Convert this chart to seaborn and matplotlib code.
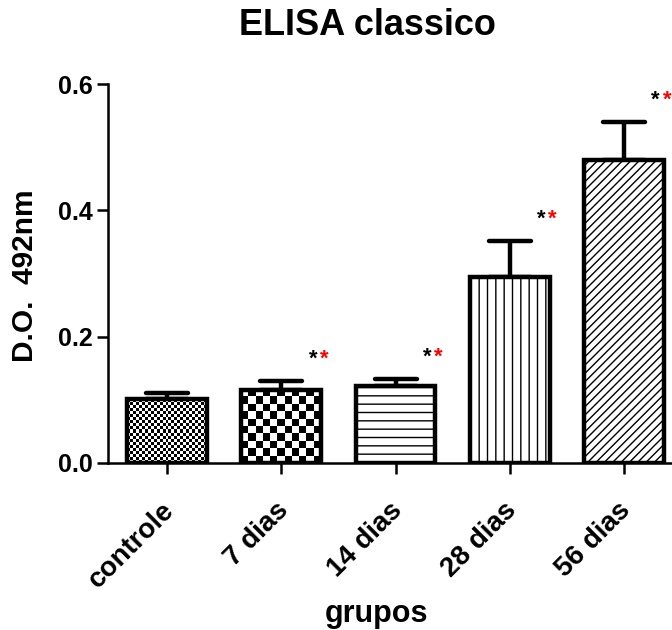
import numpy as np
import pandas as pd
import matplotlib
matplotlib.use("Agg")
import matplotlib.pyplot as plt
from matplotlib.markers import MarkerStyle
from matplotlib.transforms import ScaledTranslation
import seaborn as sns

groups = ["controle", "7 dias", "14 dias", "28 dias", "56 dias"]
means = [0.101, 0.116, 0.122, 0.295, 0.480]
sem = [0.010, 0.014, 0.011, 0.056, 0.060]
stars_black = ["", "*", "*", "*", "*"]
stars_red = ["", "*", "*", "*", "*"]
title = "ELISA classico"
ylabel = "D.O.  492nm"
xlabel = "grupos"
yticks = [0.0, 0.2, 0.4, 0.6]

sns.set_theme(style="ticks")
plt.rcParams["font.family"] = ["Liberation Sans", "DejaVu Sans"]
plt.rcParams["font.weight"] = "bold"
plt.rcParams["hatch.linewidth"] = 1.0
plt.rcParams["hatch.color"] = "black"
for k in ["text.color", "axes.labelcolor", "xtick.color", "ytick.color", "axes.edgecolor"]:
    plt.rcParams[k] = "black"

fig = plt.figure(figsize=(6.72, 6.30), dpi=100)
ax = fig.add_axes([108 / 672, 1 - 463 / 630, 575 / 672, 379 / 630])

df = pd.DataFrame({"grupo": groups, "valor": means})
sns.barplot(data=df, x="grupo", y="valor", color="white", edgecolor="black",
            linewidth=3.2, width=0.7, errorbar=None, ax=ax, zorder=2)

ax.set_ylim(0, 0.6)
ax.set_xlim(-0.52, 4.52)

xs = np.arange(len(groups))
eb = ax.errorbar(xs, means, yerr=[np.zeros(len(means)), sem], fmt="none",
                 ecolor="black", elinewidth=3.2, capsize=15, capthick=3.2, zorder=1.5)
for cl in eb[1]:
    cl.set_marker(MarkerStyle("_", capstyle="round"))

patterns = ["checker_small", "checker_big", "--", "||", "////"]
bars = [p for p in ax.patches]
for p, pat in zip(bars, patterns):
    p.set_facecolor("white")
    if pat.startswith("checker"):
        p.set_facecolor("none")
        sq = 3.0 if pat == "checker_small" else 7.3
        x0, y0 = p.get_x(), p.get_y()
        w, h = p.get_width(), p.get_height()
        (px0, py0), (px1, py1) = ax.transData.transform([(x0, y0), (x0 + w, y0 + h)])
        nx = max(1, int(round((px1 - px0) / sq)))
        ny = max(1, int(round((py1 - py0) / sq)))
        ii, jj = np.indices((ny, nx))
        img = ((ii + jj) % 2).astype(float)
        im = ax.imshow(img, extent=[x0, x0 + w, y0, y0 + h], cmap="gray",
                       interpolation="nearest", aspect="auto", origin="lower",
                       zorder=1.8)
        im.set_clip_path(p)
    else:
        p.set_hatch(pat)

ax.set_ylim(0, 0.6)
ax.set_xlim(-0.52, 4.52)

for x, m, e, sb, sr in zip(xs, means, sem, stars_black, stars_red):
    if sb:
        ax.annotate(sb, xy=(x, m + e), xytext=(20, 8), textcoords="offset points",
                    ha="left", va="bottom", fontsize=16, color="black",
                    annotation_clip=False)
    if sr:
        ax.annotate(sr, xy=(x, m + e), xytext=(28, 8), textcoords="offset points",
                    ha="left", va="bottom", fontsize=16, color="red",
                    annotation_clip=False)

sns.despine(ax=ax)
for s in ["left", "bottom"]:
    ax.spines[s].set_linewidth(1.8)
    ax.spines[s].set_color("black")

ax.set_yticks(yticks)
ax.set_yticklabels([f"{t:.1f}" for t in yticks], fontsize=18, fontweight="bold")
ax.set_xticks(xs)
ax.set_xticklabels(groups, rotation=45, ha="right", rotation_mode="anchor",
                   fontsize=20, fontweight="bold")
ax.tick_params(axis="both", length=8, width=1.8, color="black")
ax.tick_params(axis="y", pad=3)
ax.tick_params(axis="x", pad=17)
shift = ScaledTranslation(-6 / 100, 0, fig.dpi_scale_trans)
for lab in ax.get_xticklabels():
    lab.set_transform(lab.get_transform() + shift)

ax.set_xlabel(xlabel, fontsize=22, fontweight="bold")
ax.xaxis.label.set_va("baseline")
ax.xaxis.set_label_coords((376 - 108) / 575, (463 - 622) / 379)
ax.set_ylabel(ylabel, fontsize=21.5, fontweight="bold")
ax.yaxis.label.set_va("center")
ax.yaxis.set_label_coords((25 - 108) / 575, (463 - 276) / 379)

fig.text(367 / 672, 1 - 35 / 630, title, ha="center", va="baseline",
         fontsize=26, fontweight="bold")

fig.savefig("out.png", dpi=100)
